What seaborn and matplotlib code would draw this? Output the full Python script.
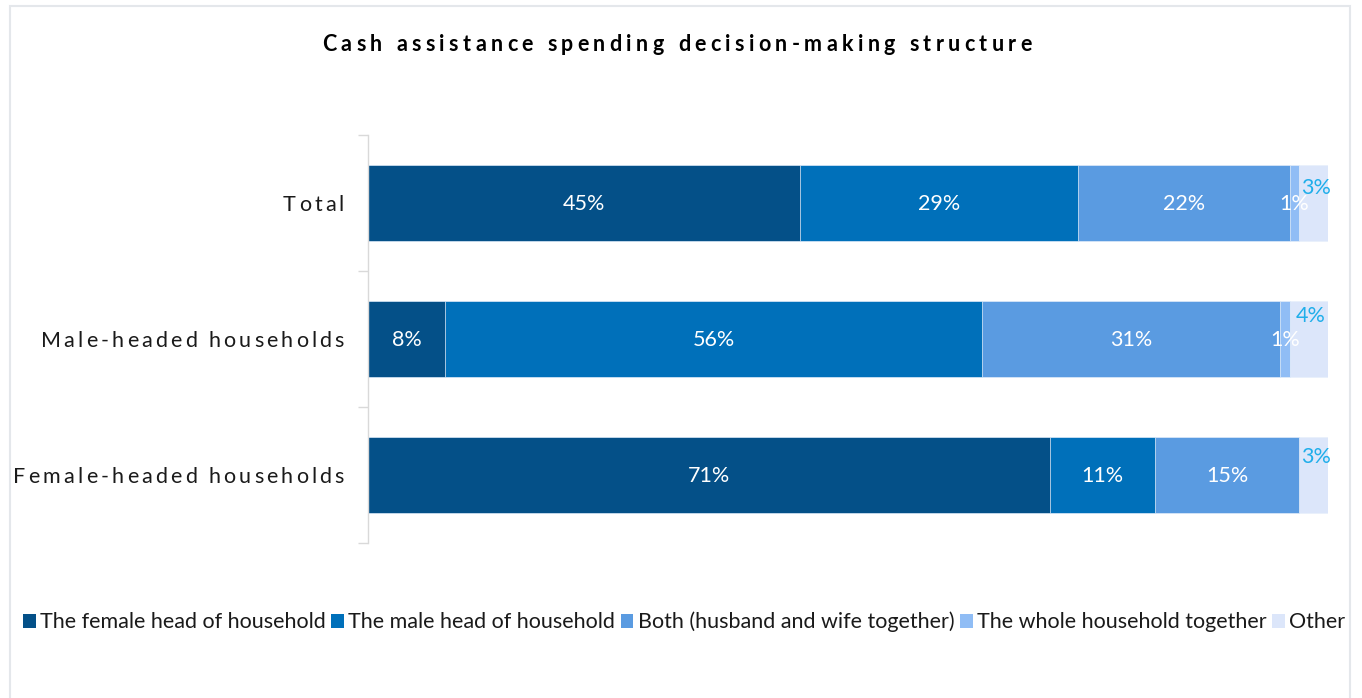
import matplotlib
matplotlib.use("Agg")
import matplotlib.pyplot as plt
import matplotlib.transforms as mtransforms
from matplotlib.text import Text
from matplotlib.patches import Patch, Rectangle
import numpy as np
import pandas as pd
import seaborn as sns

# ---- data -------------------------------------------------------------
title = "Cash assistance spending decision-making structure"
groups = ["Total", "Male-headed households", "Female-headed households"]
series = [
    "The female head of household",
    "The male head of household",
    "Both (husband and wife together)",
    "The whole household together",
    "Other",
]
female_head = [45, 8, 71]
male_head = [29, 56, 11]
both = [22, 31, 15]
whole_household = [1, 1, 0]
other = [3, 4, 3]

# ---- style ------------------------------------------------------------
palette = ["#045088", "#0070BA", "#5A9BE1", "#90BDF5", "#DCE6FA"]
outside_label_color = "#1FAEEA"
other_label_lift = [15, 23, 18]   # px above the bar centre for the "Other" labels

sns.set_theme(style="white")
plt.rcParams["font.family"] = ["Lato", "DejaVu Sans"]


class SpacedText(Text):
    """Text drawn with extra tracking between characters."""

    def __init__(self, *args, tracking=0.0, **kwargs):
        super().__init__(*args, **kwargs)
        self._tracking = tracking  # points

    def draw(self, renderer):
        if not self.get_visible() or not self.get_text():
            return
        s = self.get_text()
        prop = self.get_fontproperties()

        def width(t):
            return renderer.get_text_width_height_descent(t, prop, ismath=False)[0]

        ref = width("HH")
        # pen offset of each character = advance of the preceding substring
        pens = [width("H" + s[:k] + "H") - ref for k in range(len(s) + 1)]
        gap = renderer.points_to_pixels(self._tracking)
        total = pens[-1] + gap * (len(s) - 1)
        cap = renderer.get_text_width_height_descent("H", prop, ismath=False)[1]
        x0, y = self.get_transform().transform(self.get_unitless_position())
        ha = self.get_horizontalalignment()
        if ha == "center":
            x0 -= total / 2
        elif ha == "right":
            x0 -= total
        y -= cap / 2
        if renderer.flipy():
            y = renderer.get_canvas_width_height()[1] - y
        gc = renderer.new_gc()
        gc.set_foreground(self.get_color())
        gc.set_antialiased(True)
        for k, ch in enumerate(s):
            if not ch.isspace():
                renderer.draw_text(gc, x0 + pens[k] + k * gap, y, ch, prop, 0, ismath=False)
        gc.restore()
        self.stale = False


df = pd.DataFrame(
    {
        "group": groups,
        series[0]: female_head,
        series[1]: male_head,
        series[2]: both,
        series[3]: whole_household,
        series[4]: other,
    }
)
cum = df[series].cumsum(axis=1)

W, H = 1362, 698
fig = plt.figure(figsize=(W / 100, H / 100), dpi=100)
fig.patch.set_facecolor("white")
ax = fig.add_axes([368 / W, (H - 543) / H, 960 / W, 408 / H])

# stacked bars: draw cumulative totals from the outermost segment inwards
for i in reversed(range(len(series))):
    sns.barplot(
        x=cum[series[i]].values,
        y=df["group"],
        orient="h",
        color=palette[i],
        saturation=1,
        width=0.56,
        edgecolor="#E8F0FB",
        linewidth=0.5,
        errorbar=None,
        ax=ax,
    )

ax.set_xlim(0, 100)
ax.set_ylim(2.5, -0.5)
ax.set_xlabel("")
ax.set_ylabel("")
ax.set_xticks([])
for side in ("top", "right", "bottom"):
    ax.spines[side].set_visible(False)
ax.spines["left"].set_color("#D9D9D9")
ax.spines["left"].set_linewidth(1)
ax.set_yticks([-0.5, 0.5, 1.5, 2.5], minor=True)
ax.tick_params(axis="y", which="minor", length=7, width=1, color="#D9D9D9", left=True)
ax.tick_params(axis="y", which="major", length=0, labelleft=False)

# segment value labels
for j, g in enumerate(groups):
    for i, col in enumerate(series):
        v = df.loc[j, col]
        if v <= 0:
            continue
        xc = cum.loc[j, col] - v / 2
        if col == "Other":
            ax.annotate(f"{v}%", xy=(xc, j), xytext=(2, other_label_lift[j]),
                        textcoords="offset pixels", ha="center", va="center",
                        color=outside_label_color, fontsize=15.5)
        else:
            ax.annotate(f"{v}%", xy=(xc, j), xytext=(0, -1),
                        textcoords="offset pixels", ha="center", va="center",
                        color="white", fontsize=15.5)

# category labels with tracking
lab_tr = mtransforms.offset_copy(ax.get_yaxis_transform(), fig=fig, x=-24, y=0, units="dots")
for j, g in enumerate(groups):
    ax.add_artist(SpacedText(0, j, g, transform=lab_tr, ha="right", va="center",
                             fontsize=15.5, color="#1A1A1A", tracking=2.25))

# title
fig.add_artist(SpacedText(677 / W, 1 - 42.5 / H, title, transform=fig.transFigure,
                          ha="center", va="center", fontsize=15.5, fontweight="bold",
                          color="#000000", tracking=3.15))

# legend
handles = [Patch(facecolor=c, edgecolor="none") for c in palette]
fig.legend(handles, series, loc="center", bbox_to_anchor=(684 / W, 1 - 622 / H),
           ncol=5, frameon=False, handlelength=0.6, handleheight=0.6,
           handletextpad=0.2, columnspacing=0.25, fontsize=15.5, borderpad=0,
           labelcolor="#1A1A1A")

# outer frame
fig.patches.append(Rectangle((10 / W, -0.02), 1340 / W, 0.02 + 692 / H,
                             transform=fig.transFigure, fill=False,
                             edgecolor="#E4E7EB", linewidth=1.5))

fig.savefig("out.png", dpi=100)
